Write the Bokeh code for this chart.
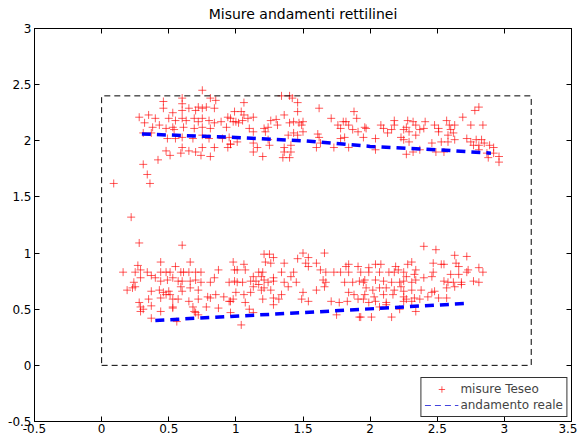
from bokeh.plotting import figure
from bokeh.models import Range1d, LinearAxis, FixedTicker, CustomJSTickFormatter, Legend, LegendItem, ColumnDataSource
from bokeh.embed import file_html
from bokeh.resources import INLINE

title_text = "Misure andamenti rettilinei"
label_points = "misure Teseo"
label_path = "andamento reale"

x_ticks = [-0.5, 0, 0.5, 1, 1.5, 2, 2.5, 3, 3.5]
y_ticks = [-0.5, 0, 0.5, 1, 1.5, 2, 2.5, 3]

# real path (rectangle)
path_x = [0, 3.2, 3.2, 0, 0]
path_y = [0, 0, 2.4, 2.4, 0]

# fitted lines
upper_line_x = [0.3, 1.0, 1.5, 2.0, 2.5, 2.9]
upper_line_y = [2.06, 2.03, 2.0, 1.95, 1.92, 1.89]
lower_line_x = [0.4, 1.5, 2.7]
lower_line_y = [0.40, 0.47, 0.55]

teseo_upper = [
    (0.75, 2.45), (0.46, 2.35), (0.60, 2.38), (0.81, 2.38), (0.85, 2.36), (0.46, 2.29), (0.60, 2.33),
    (0.60, 2.27), (0.65, 2.29), (0.70, 2.27), (0.72, 2.30), (0.75, 2.29), (0.78, 2.30), (0.84, 2.29),
    (0.28, 2.21), (0.35, 2.23), (0.40, 2.20), (0.50, 2.20), (0.53, 2.25), (0.55, 2.18), (0.60, 2.20),
    (0.63, 2.18), (0.69, 2.20), (0.72, 2.17), (0.75, 2.20), (0.80, 2.18), (0.84, 2.16), (0.89, 2.17),
    (0.94, 2.21), (0.98, 2.17), (0.32, 2.16), (0.38, 2.12), (0.43, 2.14), (0.48, 2.11), (0.53, 2.12),
    (0.54, 2.10), (0.61, 2.12), (0.69, 2.11), (0.75, 2.12), (0.81, 2.11), (0.93, 2.12), (0.31, 2.07),
    (0.37, 2.07), (0.49, 2.02), (0.55, 2.02), (0.60, 2.03), (0.68, 2.02), (0.75, 2.05), (0.80, 2.02),
    (0.90, 2.02), (0.95, 2.03), (0.60, 1.94), (0.75, 1.94), (0.84, 1.94), (0.94, 1.94), (0.96, 1.97),
    (0.48, 1.91), (0.51, 1.87), (0.59, 1.89), (0.65, 1.91), (0.70, 1.90), (0.74, 1.87), (0.81, 1.86),
    (0.42, 1.83), (0.31, 1.79), (0.34, 1.70), (0.36, 1.62), (0.09, 1.62), (0.22, 1.32),
    (1.34, 2.40), (1.40, 2.40), (1.42, 2.38), (1.06, 2.34), (1.46, 2.34), (1.62, 2.29), (1.46, 2.26),
    (0.99, 2.26), (1.04, 2.26), (1.06, 2.23), (1.36, 2.23), (1.71, 2.20), (1.80, 2.17), (1.82, 2.17),
    (1.88, 2.26), (1.90, 2.20), (0.96, 2.20), (1.00, 2.17), (1.02, 2.16), (1.05, 2.18), (1.09, 2.20),
    (1.13, 2.21), (1.26, 2.18), (1.30, 2.19), (1.31, 2.14), (1.40, 2.16), (1.43, 2.17), (1.47, 2.16),
    (1.50, 2.17), (1.49, 2.14), (1.76, 2.14), (1.78, 2.11), (1.84, 2.14), (1.87, 2.10), (1.91, 2.08),
    (1.96, 2.12), (1.97, 2.11), (1.10, 2.11), (1.13, 2.08), (1.21, 2.11), (1.24, 2.12), (1.22, 2.08),
    (1.39, 2.05), (1.43, 2.07), (1.46, 2.05), (1.50, 2.08), (1.61, 2.06), (1.62, 2.03), (1.78, 2.02),
    (1.81, 2.03), (1.95, 2.03), (0.96, 1.97), (1.01, 1.99), (1.13, 1.98), (1.24, 2.01), (1.25, 1.96),
    (1.36, 1.94), (1.41, 1.96), (1.60, 1.94), (1.63, 1.98), (1.73, 1.94), (1.84, 1.94), (1.16, 1.94),
    (1.13, 1.90), (1.36, 1.90), (1.41, 1.90), (1.20, 1.86), (1.35, 1.85), (1.40, 1.85),
    (2.78, 2.27), (2.81, 2.30), (2.69, 2.21), (2.08, 2.14), (2.10, 2.11), (2.18, 2.18), (2.18, 2.14),
    (2.16, 2.10), (2.13, 2.07), (2.28, 2.18), (2.32, 2.17), (2.34, 2.14), (2.27, 2.12), (2.25, 2.10),
    (2.29, 2.08), (2.41, 2.17), (2.40, 2.11), (2.37, 2.10), (2.34, 2.05), (2.48, 2.14), (2.51, 2.11),
    (2.51, 2.08), (2.57, 2.18), (2.59, 2.14), (2.63, 2.14), (2.60, 2.10), (2.58, 2.05), (2.62, 2.07),
    (2.75, 2.14), (2.84, 2.14), (2.04, 2.02), (2.23, 2.03), (2.25, 2.01), (2.29, 1.99), (2.46, 1.98),
    (2.53, 1.99), (2.58, 1.99), (2.63, 2.01), (2.72, 2.02), (2.75, 1.99), (2.79, 2.01), (2.83, 2.01),
    (2.85, 1.98), (2.89, 1.96), (2.92, 1.94), (2.81, 1.96), (2.77, 1.96), (2.04, 1.92), (2.27, 1.88),
    (2.32, 1.90), (2.37, 1.92), (2.49, 1.90), (2.55, 1.90), (2.81, 1.92), (2.87, 1.89), (2.88, 1.85),
    (2.92, 1.89), (2.96, 1.86), (2.96, 1.81),
]

teseo_lower = [
    (0.28, 1.09), (0.60, 1.07), (0.44, 0.92), (0.66, 0.92), (0.16, 0.83), (0.27, 0.89), (0.29, 0.85),
    (0.25, 0.83), (0.34, 0.83), (0.37, 0.80), (0.44, 0.83), (0.48, 0.83), (0.51, 0.83), (0.55, 0.88),
    (0.59, 0.83), (0.61, 0.83), (0.65, 0.83), (0.70, 0.83), (0.74, 0.83), (0.87, 0.85), (0.95, 0.74),
    (0.99, 0.75), (0.29, 0.78), (0.40, 0.78), (0.44, 0.75), (0.49, 0.76), (0.53, 0.78), (0.57, 0.75),
    (0.60, 0.75), (0.66, 0.75), (0.70, 0.76), (0.74, 0.74), (0.24, 0.74), (0.23, 0.69), (0.19, 0.67),
    (0.25, 0.70), (0.37, 0.66), (0.43, 0.67), (0.46, 0.65), (0.50, 0.66), (0.51, 0.63), (0.59, 0.70),
    (0.60, 0.66), (0.66, 0.69), (0.72, 0.67), (0.81, 0.74), (0.84, 0.78), (0.85, 0.63), (0.81, 0.60),
    (0.35, 0.59), (0.44, 0.60), (0.48, 0.63), (0.53, 0.59), (0.57, 0.59), (0.65, 0.57), (0.72, 0.59),
    (0.79, 0.61), (0.91, 0.61), (0.95, 0.57), (0.98, 0.59), (0.28, 0.56), (0.29, 0.52), (0.31, 0.50),
    (0.37, 0.53), (0.53, 0.52), (0.68, 0.52), (0.69, 0.48), (0.78, 0.52), (0.87, 0.51), (0.72, 0.45),
    (0.29, 0.48), (0.44, 0.48), (0.53, 0.51), (0.70, 0.47), (0.37, 0.42), (0.56, 0.39),
    (1.66, 1.00), (1.50, 1.00), (1.54, 0.96), (1.21, 0.99), (1.25, 0.99), (1.22, 0.92), (1.28, 0.96),
    (1.26, 0.91), (1.36, 0.91), (1.46, 0.95), (1.52, 0.91), (1.54, 0.88), (1.60, 0.91), (0.98, 0.92),
    (1.06, 0.90), (0.99, 0.85), (1.01, 0.85), (1.07, 0.85), (1.17, 0.83), (1.20, 0.83), (1.19, 0.79),
    (1.13, 0.79), (1.11, 0.75), (1.15, 0.75), (1.21, 0.76), (1.28, 0.78), (1.28, 0.75), (1.34, 0.83),
    (1.43, 0.83), (1.41, 0.79), (1.63, 0.85), (1.67, 0.83), (1.65, 0.76), (1.67, 0.74), (1.73, 0.83),
    (1.78, 0.83), (1.84, 0.83), (1.82, 0.88), (1.84, 0.90), (1.91, 0.88), (1.93, 0.83), (1.92, 0.75),
    (1.95, 0.74), (1.01, 0.74), (1.05, 0.74), (1.13, 0.70), (1.17, 0.72), (1.24, 0.74), (1.36, 0.74),
    (1.39, 0.70), (1.45, 0.74), (1.60, 0.67), (1.66, 0.70), (1.81, 0.74), (1.87, 0.74), (1.00, 0.65),
    (1.06, 0.63), (1.11, 0.65), (1.19, 0.67), (1.21, 0.69), (1.26, 0.67), (1.34, 0.63), (1.50, 0.65),
    (1.54, 0.57), (1.49, 0.59), (1.71, 0.57), (1.77, 0.56), (1.83, 0.57), (1.84, 0.65), (1.88, 0.63),
    (1.91, 0.59), (1.95, 0.59), (0.96, 0.57), (1.07, 0.56), (1.20, 0.59), (1.28, 0.60), (1.32, 0.59),
    (1.10, 0.50), (1.13, 0.47), (1.28, 0.54), (0.96, 0.47), (1.75, 0.45), (1.92, 0.43), (1.04, 0.36),
    (2.40, 1.06), (2.49, 1.03), (2.63, 0.98), (2.72, 0.97), (2.47, 0.91), (2.53, 0.90), (2.55, 0.90),
    (2.64, 0.91), (2.66, 0.88), (1.99, 0.87), (2.04, 0.90), (2.08, 0.90), (2.19, 0.88), (2.21, 0.85),
    (2.28, 0.90), (2.31, 0.92), (2.34, 0.85), (2.81, 0.87), (2.84, 0.83), (2.73, 0.85), (2.72, 0.83),
    (2.60, 0.81), (2.66, 0.81), (2.47, 0.83), (2.46, 0.79), (1.99, 0.83), (2.07, 0.83), (2.14, 0.83),
    (2.18, 0.83), (2.25, 0.83), (2.27, 0.79), (2.33, 0.81), (2.40, 0.78), (1.96, 0.76), (2.04, 0.76),
    (2.10, 0.75), (2.16, 0.74), (2.22, 0.74), (2.25, 0.75), (2.31, 0.74), (2.34, 0.76), (2.55, 0.75),
    (2.58, 0.74), (2.62, 0.74), (2.68, 0.74), (2.77, 0.75), (2.81, 0.74), (1.97, 0.69), (2.02, 0.67),
    (2.07, 0.69), (2.12, 0.69), (2.18, 0.67), (2.23, 0.70), (2.25, 0.66), (2.31, 0.67), (2.38, 0.67),
    (2.46, 0.65), (2.48, 0.66), (2.57, 0.69), (2.63, 0.70), (2.68, 0.72), (1.96, 0.63), (2.03, 0.61),
    (2.10, 0.63), (2.17, 0.63), (2.25, 0.61), (2.27, 0.59), (2.33, 0.60), (2.37, 0.59), (2.43, 0.61),
    (2.51, 0.60), (2.57, 0.60), (1.99, 0.56), (2.04, 0.57), (2.12, 0.56), (2.25, 0.57), (2.31, 0.57),
    (2.07, 0.52), (2.12, 0.54), (2.22, 0.50), (2.34, 0.48), (2.01, 0.43), (2.16, 0.43), (1.93, 0.43),
]

pts = teseo_upper + teseo_lower
src = ColumnDataSource(dict(x=[a for a, b in pts], y=[b for a, b in pts]))

FONT = "DejaVu Sans"

p = figure(width=577, height=435, output_backend="svg", toolbar_location=None,
           x_range=Range1d(-0.5, 3.5), y_range=Range1d(-0.5, 3.0),
           min_border_left=34, min_border_right=6, min_border_top=28, min_border_bottom=4,
           background_fill_color="white", border_fill_color="white")

p.title.text = title_text
p.title.align = "center"
p.title.vertical_align = "top"
p.title.text_font = FONT
p.title.text_font_size = "14px"
p.title.text_font_style = "normal"
p.title.text_color = "black"
p.title.standoff = 9

p.xgrid.visible = False
p.ygrid.visible = False
p.outline_line_color = "black"
p.outline_line_alpha = 1

fmt = CustomJSTickFormatter(code="return String(Math.round(tick*10)/10);")

for ax, ticks in ((p.xaxis[0], x_ticks), (p.yaxis[0], y_ticks)):
    ax.ticker = FixedTicker(ticks=ticks)
    ax.formatter = fmt
    ax.major_tick_in = 5
    ax.major_tick_out = 0
    ax.minor_tick_line_color = None
    ax.axis_line_color = "black"
    ax.major_tick_line_color = "black"
    ax.major_label_text_font = FONT
    ax.major_label_text_font_size = "12px"
    ax.major_label_text_color = "black"
    ax.major_label_standoff = 3

p.xaxis[0].major_label_standoff = 2

for side, ticks in (("above", x_ticks), ("right", y_ticks)):
    ax2 = LinearAxis(ticker=FixedTicker(ticks=ticks), major_tick_in=5, major_tick_out=0,
                     minor_tick_line_color=None, major_label_text_font_size="1px",
                     major_label_text_color=None,
                     major_label_standoff=0, axis_line_color="black", major_tick_line_color="black")
    p.add_layout(ax2, side)

sc = p.scatter("x", "y", source=src, marker="cross", size=8, line_color="#ff0000",
               line_alpha=0.65, line_width=1)

p.line(path_x, path_y, line_color="black", line_width=1, line_dash="6 4")
p.line(upper_line_x, upper_line_y, line_color="#0000ff", line_width=3.5, line_dash="9 6")
p.line(lower_line_x, lower_line_y, line_color="#0000ff", line_width=3.5, line_dash="9 6")

nan = float("nan")
leg_line = p.line([nan], [nan], line_color="#4444dd", line_width=1, line_dash="6 4")

legend = Legend(items=[LegendItem(label=label_points, renderers=[sc]),
                       LegendItem(label=label_path, renderers=[leg_line])],
                location="bottom_right")
legend.label_text_font = FONT
legend.label_text_font_size = "12px"
legend.border_line_color = "black"
legend.border_line_alpha = 0.8
legend.background_fill_color = "white"
legend.background_fill_alpha = 1
legend.margin = 4
legend.padding = 3
legend.spacing = 0
legend.glyph_width = 34
legend.glyph_height = 16
legend.label_height = 16
legend.label_standoff = 2
p.add_layout(legend, "center")

open("out.html", "w").write(file_html(p, INLINE))
